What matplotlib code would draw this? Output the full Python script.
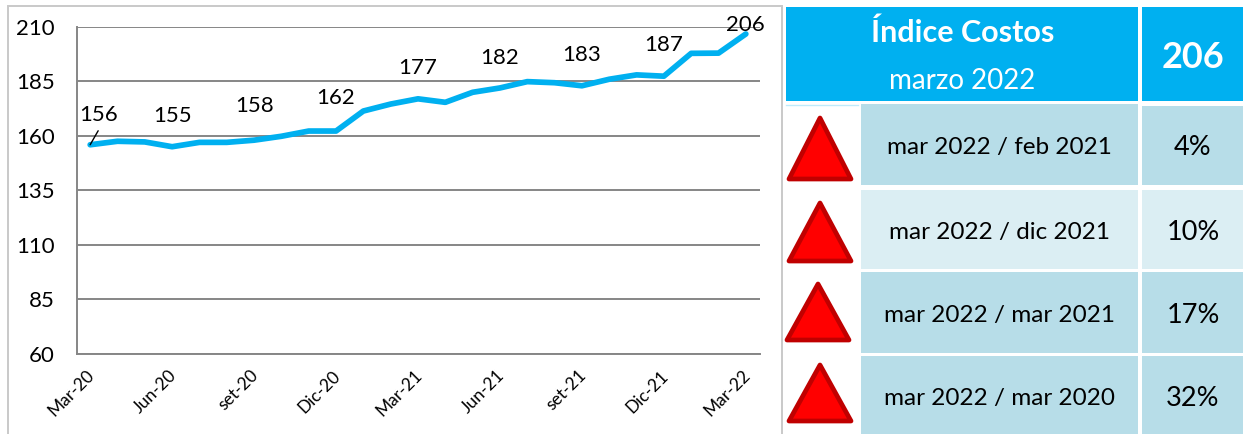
import matplotlib
matplotlib.use("Agg")
import matplotlib.pyplot as plt
from matplotlib.patches import Rectangle, Polygon
from matplotlib.transforms import ScaledTranslation

plt.rcParams['font.family'] = ['Lato', 'DejaVu Sans']

# --- data ---
series = [155.9, 157.5, 157.2, 155.0, 157.0, 157.0, 158.0, 159.8, 162.2, 162.2,
          171.4, 174.6, 177.0, 175.4, 180.0, 182.0, 184.9, 184.4, 183.0, 186.0,
          188.0, 187.4, 197.9, 198.0, 206.8]
tick_index = [0, 3, 6, 9, 12, 15, 18, 21, 24]
tick_labels = ['Mar-20', 'Jun-20', 'set-20', 'Dic-20', 'Mar-21', 'Jun-21', 'set-21', 'Dic-21', 'Mar-22']
y_ticks = [60, 85, 110, 135, 160, 185, 210]
label_index = [0, 3, 6, 9, 12, 15, 18, 21, 24]
label_text = ['156', '155', '158', '162', '177', '182', '183', '187', '206']
label_offset_px = [30, 31, 34, 33, 31, 30, 31, 31, 9]

header_title = 'Índice Costos'
header_period = 'marzo 2022'
header_value = '206'
row_labels = ['mar 2022 / feb 2021', 'mar 2022 / dic 2021', 'mar 2022 / mar 2021', 'mar 2022 / mar 2020']
row_values = ['4%', '10%', '17%', '32%']

# --- layout (pixels, top-left origin) ---
W, H = 1246, 434
AX_L, AX_R, AX_T, AX_B = 76.5, 759.5, 27, 353.5
CYAN = '#00B0F0'
DARK_ROW = '#B7DDE8'
LIGHT_ROW = '#DBEEF3'
row_spans = [(104, 185), (190, 269), (272, 353), (356, 434)]
row_colors = [DARK_ROW, LIGHT_ROW, DARK_ROW, DARK_ROW]
tri_geom = [(820, 118, 179, 31), (820, 203, 261, 31), (818, 284, 340, 31), (820, 365, 421, 31)]

fig = plt.figure(figsize=(W / 100, H / 100), dpi=100, facecolor='white')

# overlay for frame and table, in pixel coordinates
bg = fig.add_axes([0, 0, 1, 1], zorder=0)
bg.set_xlim(0, W)
bg.set_ylim(H, 0)
bg.axis('off')
bg.plot([8, 8, 782, 782], [434, 5.5, 5.5, 434], color='#C9C9C9', lw=1.4, solid_joinstyle='miter')

bg.add_patch(Rectangle((786, 7), 352, 94, fc=CYAN, ec='none'))
bg.add_patch(Rectangle((1142, 7), 101, 94, fc=CYAN, ec='none'))
bg.plot([786, 858], [104.5, 104.5], color='#BFEBFB', lw=1)
bg.text(963, 33, header_title, ha='center', va='center', color='white', fontsize=22, fontweight='bold')
bg.text(962, 81, header_period, ha='center', va='center', color='white', fontsize=20)
bg.text(1193, 57, header_value, ha='center', va='center', color='white', fontsize=26, fontweight='bold')

for (top, bot), col, lab, val, (cx, ty, by, hw) in zip(row_spans, row_colors, row_labels, row_values, tri_geom):
    bg.add_patch(Rectangle((861, top), 277, bot - top, fc=col, ec='none'))
    pad_top = 2 if top == 104 else 0
    bg.add_patch(Rectangle((1142, top + pad_top), 101, bot - top - pad_top, fc=col, ec='none'))
    mid = (top + bot) / 2
    bg.text(999.5, mid + 3, lab, ha='center', va='center', color='black', fontsize=17.5)
    bg.text(1193, mid + 3, val, ha='center', va='center', color='black', fontsize=19.5)
    bg.add_patch(Polygon([(cx, ty), (cx + hw, by), (cx - hw, by)], closed=True, fc='#FF0000', ec='#C00000',
                         lw=3.4, joinstyle='round'))

# line chart
ax = fig.add_axes([AX_L / W, 1 - AX_B / H, (AX_R - AX_L) / W, (AX_B - AX_T) / H], zorder=2)
ax.patch.set_alpha(0)
x = list(range(len(series)))
ax.set_xlim(-0.5, len(series) - 0.5)
ax.set_ylim(60, 210)
ax.set_yticks(y_ticks)
ax.set_xticks(tick_index)
ax.set_xticklabels(tick_labels, rotation=45, ha='right', va='top', rotation_mode='anchor', fontsize=12.5)
ax.tick_params(axis='both', length=0, colors='black')
ax.tick_params(axis='y', labelsize=16, pad=15.5)
ax.tick_params(axis='x', pad=10)
shift = ScaledTranslation(-4 / 100, 0, fig.dpi_scale_trans)
for label in ax.get_xticklabels():
    label.set_transform(label.get_transform() + shift)
ax.grid(axis='y', color='#868686', lw=1.4, zorder=1)
ax.set_axisbelow(True)
for s in ['top', 'right']:
    ax.spines[s].set_visible(False)
for s in ['left', 'bottom']:
    ax.spines[s].set_color('#868686')
    ax.spines[s].set_linewidth(1.4)
ax.plot(x, series, color=CYAN, lw=4.1, solid_joinstyle='round', solid_capstyle='round', zorder=3, clip_on=False)

for i, txt, off in zip(label_index, label_text, label_offset_px):
    dx = 8 if i == 0 else 0
    ax.annotate(txt, xy=(x[i], series[i]), xytext=(dx * 0.72, off * 0.72), textcoords='offset points',
                ha='center', va='center', fontsize=16, color='black', zorder=4, annotation_clip=False)
# leader line of the first label
ax.annotate('', xy=(x[0], series[0]), xytext=(8 * 0.72, 14 * 0.72), textcoords='offset points',
            arrowprops=dict(arrowstyle='-', color='black', lw=1, shrinkA=0, shrinkB=0), zorder=4)

fig.savefig('out.png', dpi=100, facecolor='white')
